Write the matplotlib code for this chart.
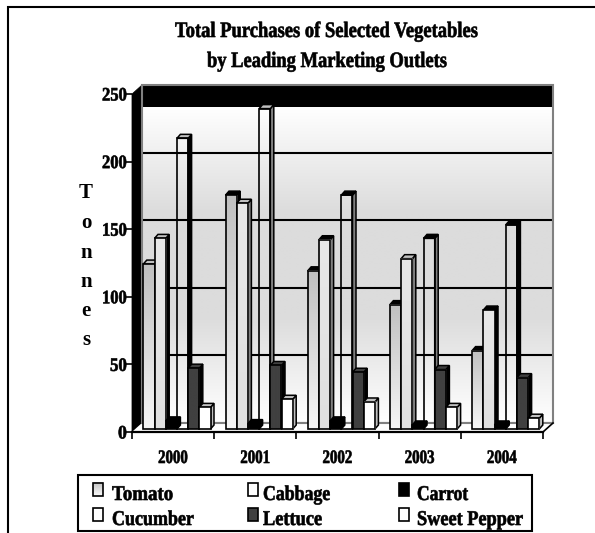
"""Total purchases of selected vegetables - fake 3D bar chart, like the old Excel look."""
import matplotlib

matplotlib.use("Agg")
import matplotlib.pyplot as plt
import numpy as np
from matplotlib.patches import Polygon, Rectangle
from matplotlib.patheffects import AbstractPathEffect
from matplotlib.transforms import Affine2D

W, H = 595, 533

years = ["2000", "2001", "2002", "2003", "2004"]
tomato = [122, 173, 117, 92, 58]
cabbage = [141, 167, 140, 126, 88]
carrot = [6, 4, 6, 3, 3]
cucumber = [215, 237, 173, 141, 151]
lettuce = [45, 47, 42, 44, 38]
sweet_pepper = [16, 22, 20, 16, 8]
y_ticks = [0, 50, 100, 150, 200, 250]

K = "black"
G = "#808080"
L = "#c0c0c0"
D = "#404040"

# name, values, gradient (top, bottom) or None, side colours, top colours
series = [
    ("Tomato", tomato, ("#c0c0c0", "#f6f6f6"), [K] * 5, [L, K, K, K, K]),
    ("Cabbage", cabbage, ("#e8e8e8", "#e0e0e0"), [K, G, G, G, K], [L, L, K, L, K]),
    ("Carrot", carrot, ("#000000", "#000000"), [K] * 5, [K] * 5),
    ("Cucumber", cucumber, None, [K, G, G, G, K], [L, L, K, K, K]),
    ("Lettuce", lettuce, ("#404040", "#404040"), [K] * 5, [D, D, D, D, D]),
    ("Sweet Pepper", sweet_pepper, ("#ffffff", "#ffffff"), [L] * 5, [L] * 5),
]


class Squeeze(AbstractPathEffect):
    """Narrow the glyphs horizontally and fatten them, the source chart has very tight letters."""

    def __init__(self, sx, stroke=0.45):
        super().__init__()
        self.sx = sx
        self.stroke = stroke

    def draw_path(self, renderer, gc, tpath, affine, rgbFace=None):
        gc0 = renderer.new_gc()
        gc0.copy_properties(gc)
        gc0.set_linewidth(self.stroke)
        gc0.set_foreground("black")
        renderer.draw_path(gc0, tpath, Affine2D().scale(self.sx, 1) + affine, rgbFace)
        gc0.restore()


fig = plt.figure(figsize=(W / 100, H / 100), dpi=100)
px = fig.add_axes([0, 0, 1, 1])
px.set_xlim(0, W)
px.set_ylim(H, 0)
px.axis("off")

# plot axes sit on the front plane of the fake 3D box
LEFT, RIGHT, TOP, BOTTOM = 132, 543, 94, 432
ax = fig.add_axes([LEFT / W, 1 - BOTTOM / H, (RIGHT - LEFT) / W, (BOTTOM - TOP) / H])
ax.set_xlim(0, 5)
ax.set_ylim(0, 250)
ax.patch.set_visible(False)
xu = (RIGHT - LEFT) / 5
yu = (BOTTOM - TOP) / 250


def tight_text(x, baseline, s, size, width, **kw):
    t = px.text(x, baseline, s, family="Liberation Serif", weight="bold", fontsize=size * 0.72,
                ha="left", va="baseline", color="black", zorder=50, **kw)
    natural = t.get_window_extent(fig.canvas.get_renderer()).width
    t.set_path_effects([Squeeze(width / natural)])
    return t


def gradient(target, x0, x1, y0, y1, stops, zorder):
    cols = np.array([matplotlib.colors.to_rgb(c) for c in stops])
    pos = np.linspace(0, 1, len(stops))
    n = 128
    img = np.stack([np.interp(np.linspace(0, 1, n), pos, cols[:, i]) for i in range(3)], axis=1)
    target.imshow(img[:, None, :], extent=(x0, x1, y0, y1), origin="upper", aspect="auto",
                  zorder=zorder, clip_on=False, interpolation="bilinear")


# back wall, side wall, floor
wall_dx, wall_dy = 10 / xu, 9 / yu
band = 22 / yu
gradient(ax, wall_dx, 5 + wall_dx, wall_dy, 250 + wall_dy - band,
         ["#ffffff", "#dcdcdc", "#dcdcdc", "#ffffff"], 0)
ax.add_patch(Rectangle((wall_dx, 250 + wall_dy - band), 5, band, fc=K, ec="none", zorder=1, clip_on=False))
ax.add_patch(Polygon([(0, 0), (wall_dx, wall_dy), (wall_dx, 250 + wall_dy), (0, 250)],
                     fc=K, ec=K, lw=0.5, zorder=1, clip_on=False))
for v in y_ticks[1:-1]:
    ax.plot([wall_dx, 5 + wall_dx], [v + wall_dy] * 2, color=K, lw=1.5, zorder=2,
            solid_capstyle="butt", clip_on=False)
ax.add_patch(Rectangle((wall_dx, wall_dy), 5, 250, fc="none", ec=G, lw=1.5, zorder=3, clip_on=False))
ax.add_patch(Polygon([(0, 0), (wall_dx, wall_dy), (5 + wall_dx, wall_dy), (5, 0)],
                     fc="white", ec="none", zorder=3, clip_on=False))
ax.plot([wall_dx, 5 + wall_dx], [wall_dy] * 2, color=G, lw=1.5, zorder=3, clip_on=False)
ax.plot([5, 5 + wall_dx], [0, wall_dy], color=K, lw=1.2, zorder=3, clip_on=False)

# bars, painted left to right so each one hides the side of the previous one
bar_w = 11.2 / xu
first = 11.3 / xu
base = 2.2
dx, dy = 3.5 / xu, 4 / yu
z = 4
for g in range(len(years)):
    for s, (name, values, grad, sides, tops) in enumerate(series):
        x0 = g + first + s * bar_w
        x1 = x0 + bar_w
        top = base + values[g]
        ax.add_patch(Polygon([(x1, base), (x1 + dx, base + dy), (x1 + dx, top + dy), (x1, top)],
                             fc=sides[g], ec=K, lw=1.1, zorder=z, clip_on=False))
        ax.add_patch(Polygon([(x0, top), (x1, top), (x1 + dx, top + dy), (x0 + dx, top + dy)],
                             fc=tops[g], ec=K, lw=1.1, zorder=z, clip_on=False))
        if grad is not None:
            gradient(ax, x0, x1, base, top, grad, z + 0.1)
        ax.bar(x0, values[g], bar_w, bottom=base, align="edge", fill=False, ec=K, lw=1.2,
               zorder=z + 0.2, clip_on=False)
        z += 1

ax.set_xlim(0, 5)
ax.set_ylim(0, 250)

for side in ["top", "right"]:
    ax.spines[side].set_visible(False)
ax.spines["left"].set_color(K)
ax.spines["bottom"].set_color(K)
ax.spines["bottom"].set_linewidth(1.6)
ax.spines["bottom"].set_zorder(300)
ax.set_xticks(range(6))
ax.set_yticks(y_ticks)
ax.tick_params(length=5, width=1.2, labelbottom=False, labelleft=False)

# tick labels
for v in y_ticks:
    w = {1: 9, 2: 17, 3: 25}[len(str(v))]
    tight_text(127 - w, BOTTOM - v * yu + 6.5, str(v), 19, w)
for g, year in enumerate(years):
    tight_text(LEFT + (g + 0.5) * xu - 15, 463, year, 19, 30)

# titles
tight_text(175, 37, "Total Purchases of Selected Vegetables", 22, 304)
tight_text(207, 67, "by Leading Marketing Outlets", 22, 241)

# y label, one letter per row
for letter, y_base in zip("Tonnes", [198, 228, 258, 287, 316, 345]):
    px.text(86, y_base, letter, family="Liberation Serif", weight="bold", fontsize=15,
            ha="center", va="baseline", color=K)

# frame only on top and left
px.plot([8, 8, W], [532, 6.5, 6.5], color=K, lw=1.5, solid_joinstyle="miter")

# legend
px.add_patch(Rectangle((78, 474.5), 454, 56.5, fc="white", ec=K, lw=1.5, zorder=40))
legend_cols = [(93, 112), (248, 263), (399, 417)]
legend_rows = [(483, 500), (508, 525)]
legend_widths = {"Tomato": 61, "Cabbage": 67, "Carrot": 51, "Cucumber": 82, "Lettuce": 59, "Sweet Pepper": 106}
legend_fills = {"Tomato": "none", "Cabbage": "white", "Carrot": "black", "Cucumber": "white",
                "Lettuce": "#404040", "Sweet Pepper": "white"}
for i, (name, *_rest) in enumerate(series):
    col_x, text_x = legend_cols[i % 3]
    row_y, text_y = legend_rows[i // 3]
    if name == "Tomato":
        gradient(px, col_x, col_x + 10, row_y + 12.5, row_y, ("#c0c0c0", "#f6f6f6"), 41)
    px.add_patch(Rectangle((col_x, row_y), 10, 12.5, fc=legend_fills[name], ec=K, lw=1.2, zorder=41))
    tight_text(text_x, text_y, name, 21, legend_widths[name])

px.set_xlim(0, W)
px.set_ylim(H, 0)

fig.savefig("out.png", dpi=100)
